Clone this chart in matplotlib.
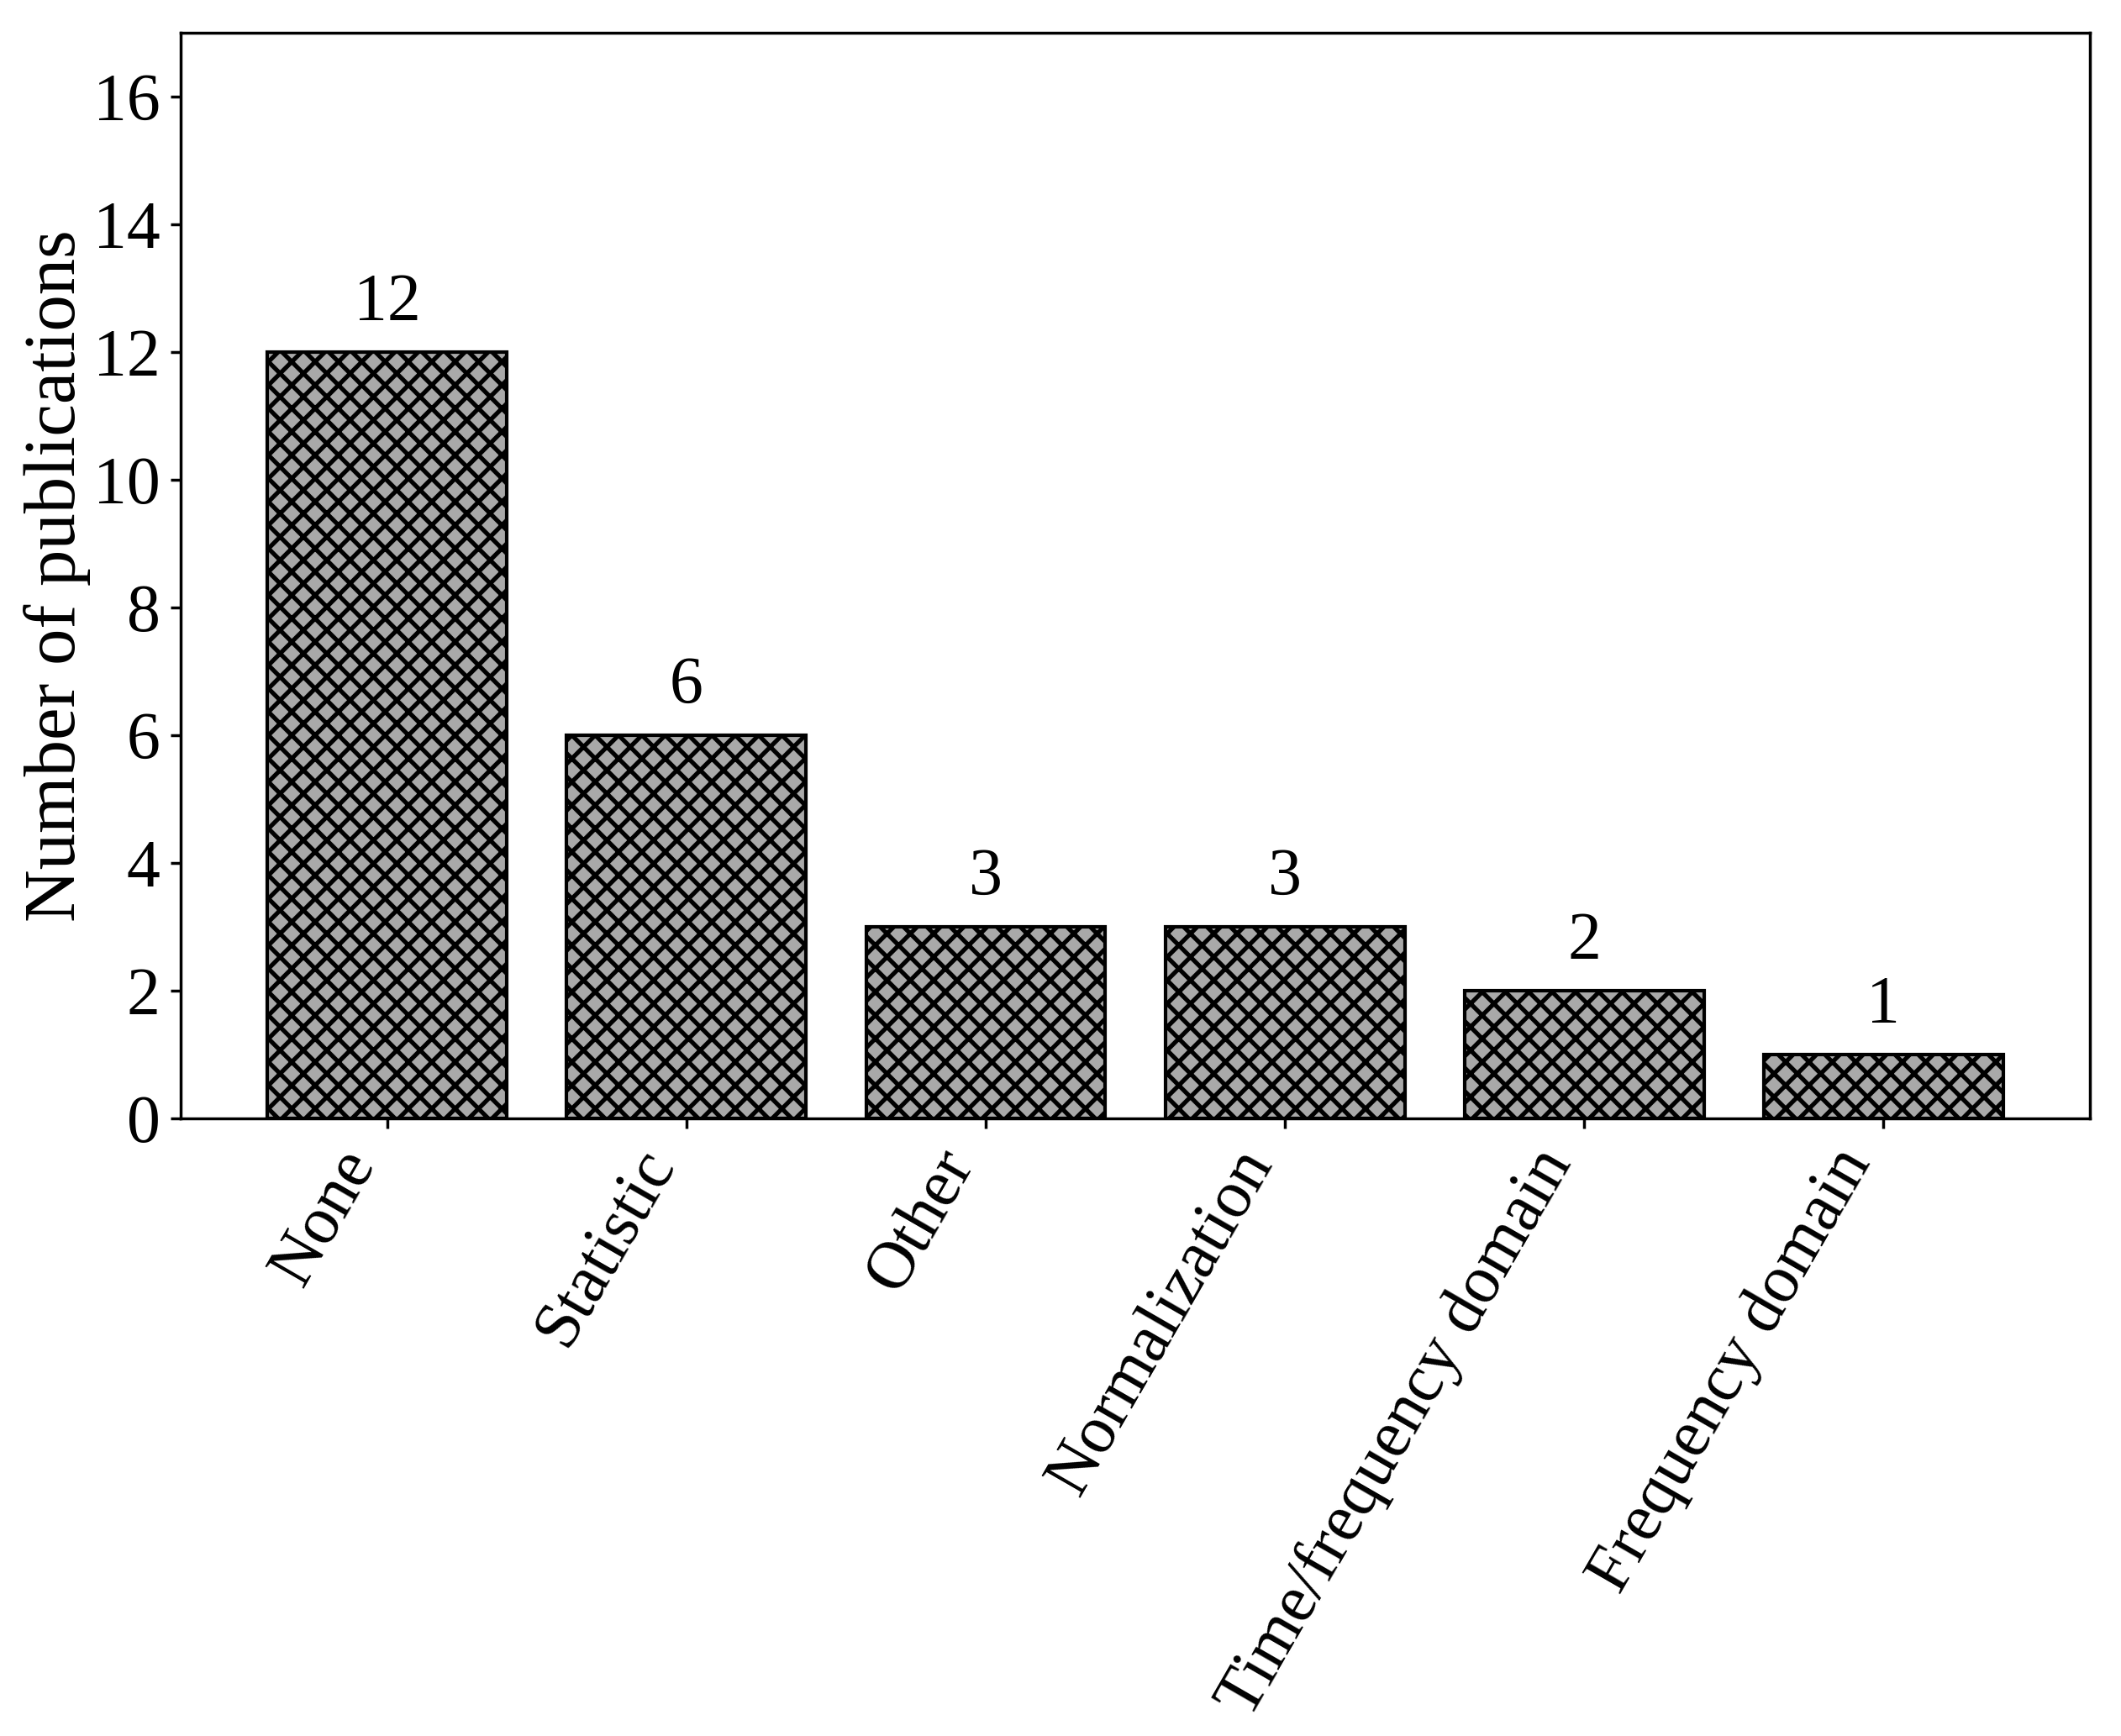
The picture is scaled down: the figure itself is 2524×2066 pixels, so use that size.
import matplotlib
matplotlib.use("Agg")
import matplotlib.pyplot as plt

categories = ["None", "Statistic", "Other", "Normalization",
              "Time/frequency domain", "Frequency domain"]
counts = [12, 6, 3, 3, 2, 1]
yticks = [0, 2, 4, 6, 8, 10, 12, 14, 16]

plt.rcParams['font.family'] = ['Liberation Serif', 'DejaVu Serif']
plt.rcParams['hatch.linewidth'] = 1.5

fig = plt.figure(figsize=(2524 / 250, 2066 / 250), dpi=250)
ax = fig.add_axes([0.0852, 0.3557, 0.9002, 0.6254])

x = list(range(len(categories)))
bars = ax.bar(x, counts, width=0.8, color='darkgrey', edgecolor='black',
              linewidth=1.2, hatch='xxx')

for xi, v in zip(x, counts):
    ax.annotate(str(v), (xi, v), xytext=(0, 6), textcoords='offset points',
                ha='center', va='bottom', fontsize=23)

ax.set_xlim(-0.69, 5.69)
ax.set_ylim(0, 17)
ax.set_yticks(yticks)
ax.set_xticks(x)
ax.set_xticklabels(categories, rotation=60, ha='right', fontsize=23)
ax.tick_params(axis='y', labelsize=23, width=1)
ax.tick_params(axis='x', width=1)
for s in ax.spines.values():
    s.set_linewidth(1.0)
ax.set_ylabel("Number of publications", fontsize=25, labelpad=1)

fig.savefig("out.png", dpi=250)
